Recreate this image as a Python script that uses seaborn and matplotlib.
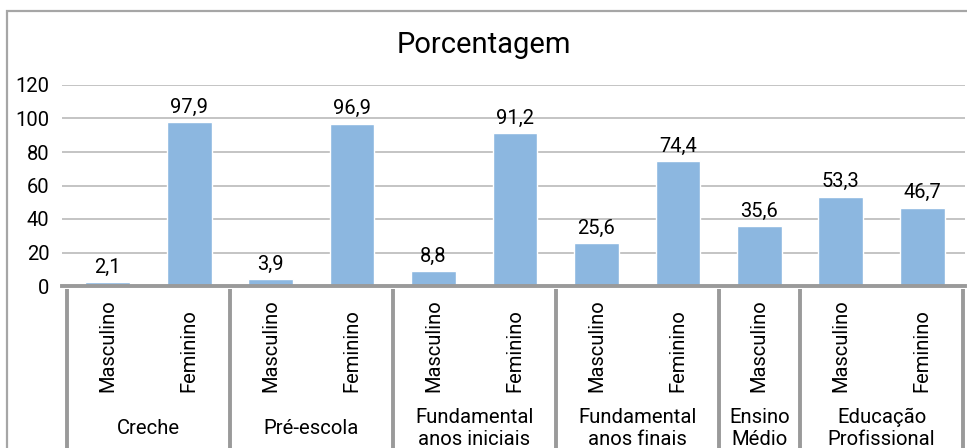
import pandas as pd
import matplotlib.pyplot as plt
import matplotlib.transforms as mtransforms
from matplotlib.patches import Rectangle
import seaborn as sns

# Data
groups = ["Creche", "Pré-escola", "Fundamental\nanos iniciais",
          "Fundamental\nanos finais", "Ensino\nMédio", "Educação\nProfissional"]
group_of_bar = [0, 0, 1, 1, 2, 2, 3, 3, 4, 5, 5]
sexes = ["Masculino", "Feminino", "Masculino", "Feminino", "Masculino", "Feminino",
         "Masculino", "Feminino", "Masculino", "Masculino", "Feminino"]
values = [2.1, 97.9, 3.9, 96.9, 8.8, 91.2, 25.6, 74.4, 35.6, 53.3, 46.7]
yticks = [0, 20, 40, 60, 80, 100, 120]

df = pd.DataFrame({"id": [str(i) for i in range(len(values))],
                   "sexo": sexes, "valor": values})

sns.set_style("white")
plt.rcParams["font.family"] = ["Roboto", "DejaVu Sans"]

W, H = 967, 448
fig = plt.figure(figsize=(W / 100, H / 100), dpi=100)
ax = fig.add_axes([62 / W, (H - 286) / H, (965 - 62) / W, (286 - 85) / H])

sns.barplot(data=df, x="id", y="valor", order=list(df["id"]), color="#8cb7e0",
            width=0.55, saturation=1, ax=ax)

ax.set_ylim(0, 120)
ax.set_xlim(-0.5 - 5 / 81.45, 10.5 + 2 / 81.45)
ax.set_yticks(yticks)
ax.set_yticklabels([str(t) for t in yticks], fontsize=14.5, color="black")
ax.tick_params(axis="y", length=0, pad=9)
ax.set_xticks([])
ax.set_xlabel("")
ax.set_ylabel("")
ax.yaxis.grid(True, color="#c4c4c4", linewidth=1.4)
ax.set_axisbelow(True)
for s in ["top", "right", "left"]:
    ax.spines[s].set_visible(False)
ax.spines["bottom"].set_color("#9a9a9a")
ax.spines["bottom"].set_linewidth(2.8)

# value labels with decimal comma
ax.bar_label(ax.containers[0], labels=[f"{v:.1f}".replace(".", ",") for v in values],
             padding=4, fontsize=14.5, color="black")

# multi-level category axis
tr = mtransforms.blended_transform_factory(ax.transData, fig.transFigure)
for i, s in enumerate(sexes):
    fig.text(i, (H - 392) / H, s, transform=tr, rotation=90, ha="center",
             va="bottom", fontsize=14.5, color="black")

bounds = [-0.5]
for g in range(len(groups)):
    idx = [i for i, gb in enumerate(group_of_bar) if gb == g]
    center = (idx[0] + idx[-1]) / 2
    fig.text(center, (H - 428) / H, groups[g], transform=tr, ha="center",
             va="center", fontsize=14.6, color="black", linespacing=1.2)
    bounds.append(idx[-1] + 0.5)
for b in bounds:
    ax.plot([b, b], [-0.015, -1.0], transform=ax.get_xaxis_transform(),
            color="#9a9a9a", linewidth=2.8, clip_on=False, solid_capstyle="butt")

fig.text(484 / W, (H - 53) / H, "Porcentagem", ha="center", va="baseline",
         fontsize=21, color="black")

# chart outer border
fig.patches.append(Rectangle((7 / W, -0.2), 1.5, (H - 11) / H + 0.2,
                             transform=fig.transFigure, fill=False,
                             edgecolor="#a6a6a6", linewidth=1.6))

fig.savefig("out.png", dpi=100)
